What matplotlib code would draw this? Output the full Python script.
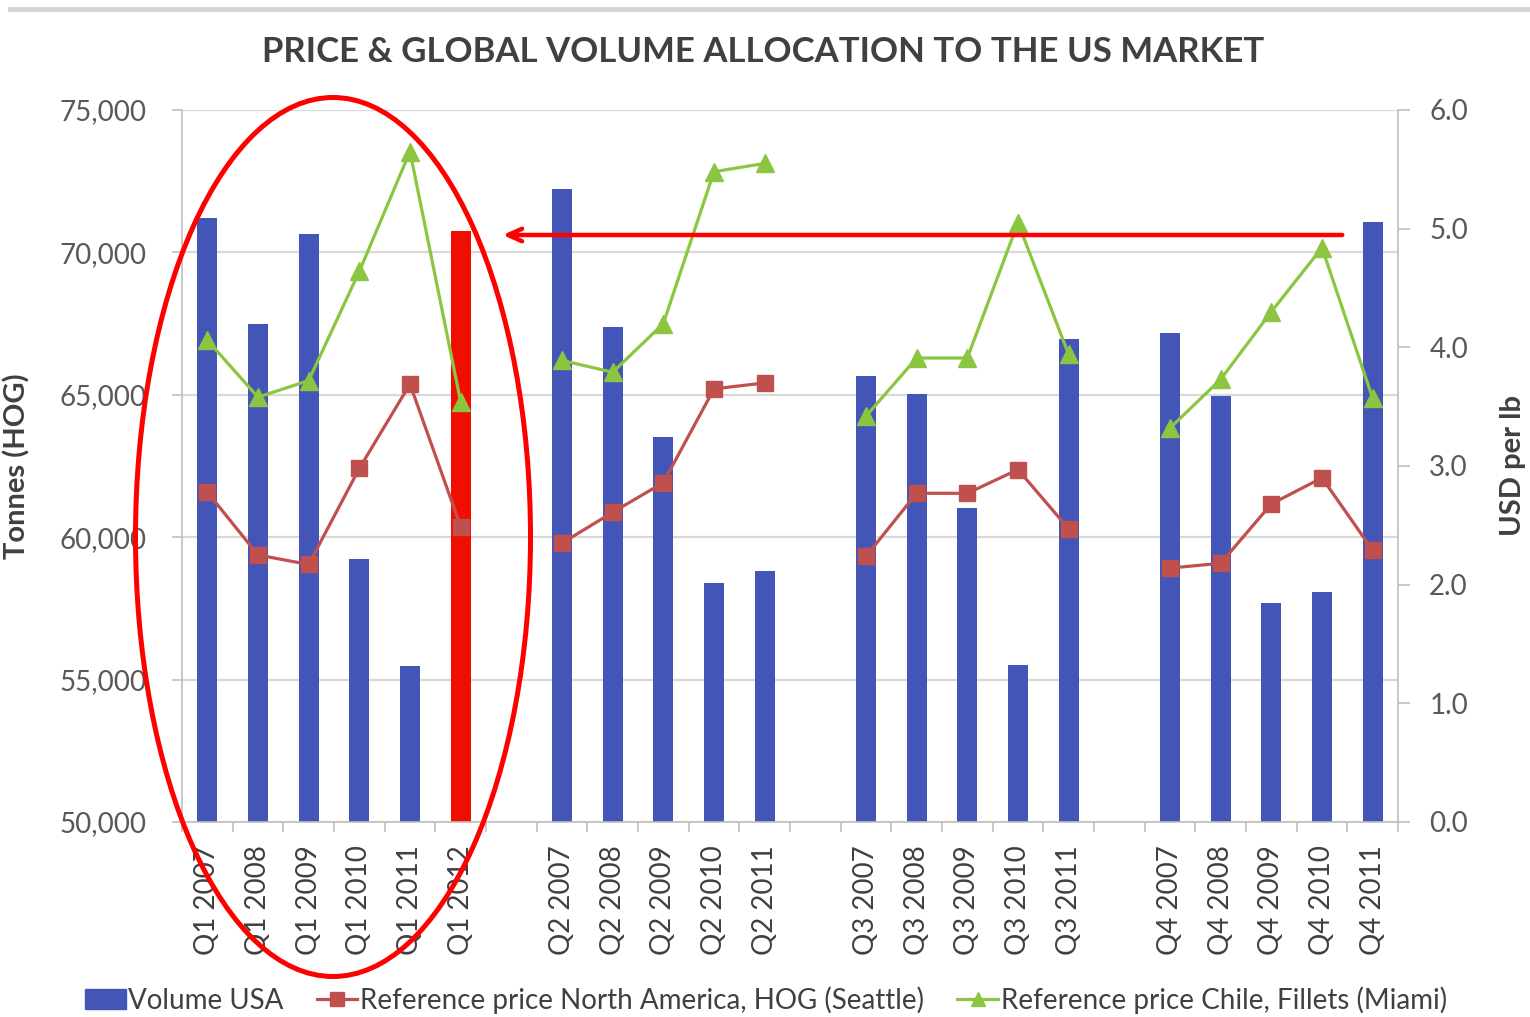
import numpy as np
import matplotlib
matplotlib.use('Agg')
import matplotlib.pyplot as plt
from matplotlib.patches import Ellipse, Patch
from matplotlib.lines import Line2D

plt.rcParams['font.family'] = ['Lato', 'DejaVu Sans']

nan = np.nan
categories = ['Q1 2007', 'Q1 2008', 'Q1 2009', 'Q1 2010', 'Q1 2011', 'Q1 2012', '',
              'Q2 2007', 'Q2 2008', 'Q2 2009', 'Q2 2010', 'Q2 2011', '',
              'Q3 2007', 'Q3 2008', 'Q3 2009', 'Q3 2010', 'Q3 2011', '',
              'Q4 2007', 'Q4 2008', 'Q4 2009', 'Q4 2010', 'Q4 2011']
volume_usa = [71220, 67490, 70650, 59230, 55490, 70750, nan,
              72230, 67390, 63530, 58385, 58800, nan,
              65660, 65030, 61030, 55510, 66960, nan,
              67180, 64960, 57700, 58090, 71060]
price_na_hog = [2.78, 2.25, 2.17, 2.98, 3.69, 2.49, nan,
                2.35, 2.61, 2.86, 3.65, 3.70, nan,
                2.24, 2.77, 2.77, 2.97, 2.47, nan,
                2.14, 2.18, 2.68, 2.90, 2.29]
price_chile = [4.06, 3.58, 3.72, 4.64, 5.65, 3.54, nan,
               3.89, 3.79, 4.20, 5.48, 5.55, nan,
               3.42, 3.91, 3.91, 5.05, 3.94, nan,
               3.32, 3.73, 4.30, 4.84, 3.57]
highlight_category = 'Q1 2012'
left_ticks = [50000, 55000, 60000, 65000, 70000, 75000]
right_ticks = [0, 1, 2, 3, 4, 5, 6]

series_names = ['Volume USA', 'Reference price North America, HOG (Seattle)',
                'Reference price Chile, Fillets (Miami)']
title = 'PRICE & GLOBAL VOLUME ALLOCATION TO THE US MARKET'

BLUE = '#4455b8'
HRED = '#f00e00'
LRED = '#c0504d'
GREEN = '#8cc540'
GRID = '#d9d9d9'
AX = '#bfbfbf'
TXT = '#595959'
DARK = '#404040'

fig = plt.figure(figsize=(15.3, 10.17), dpi=100)
ax = fig.add_axes([182/1530, 1 - 822/1017, 1216/1530, 712/1017])
x = np.arange(len(categories))
bar_colors = [HRED if c == highlight_category else BLUE for c in categories]
ax.bar(x, volume_usa, width=0.4, color=bar_colors, zorder=2)
ax.set_ylim(left_ticks[0], left_ticks[-1])
ax.set_xlim(-0.5, len(categories) - 0.5)
ax.set_yticks(left_ticks)
ax.set_yticklabels([f'{v:,}' for v in left_ticks])
ax.set_axisbelow(True)
ax.grid(axis='y', color=GRID, lw=1.6)
ax.set_xticks(x)
ax.set_xticklabels(categories, rotation=90)
ax.set_xticks(np.arange(-0.5, len(categories)), minor=True)
ax.tick_params(axis='x', which='major', length=0, pad=17, labelsize=20, labelcolor=DARK)
ax.tick_params(axis='x', which='minor', length=7.5, width=1.2, color=AX)
ax.tick_params(axis='y', length=7.5, width=1.2, color=AX, pad=18, labelsize=20, labelcolor=TXT)
for s in ['top', 'right']:
    ax.spines[s].set_visible(False)
for s in ['left', 'bottom']:
    ax.spines[s].set_color(AX)
    ax.spines[s].set_linewidth(1.2)
ax.set_ylabel('Tonnes (HOG)', fontsize=21, fontweight='bold', color=DARK)
ax.yaxis.set_label_coords(-0.125, 0.5)

ax2 = ax.twinx()
ax2.plot(x, price_na_hog, color=LRED, lw=2.3, marker='s', markersize=12, zorder=3)
ax2.plot(x, price_chile, color=GREEN, lw=2.3, marker='^', markersize=13, zorder=3)
ax2.set_ylim(right_ticks[0], right_ticks[-1])
ax2.set_yticks(right_ticks)
ax2.set_yticklabels([f'{v:.1f}' for v in right_ticks])
ax2.tick_params(axis='y', length=8.5, width=1.2, color=AX, pad=14, labelsize=20, labelcolor=TXT)
for s in ['top', 'left', 'bottom']:
    ax2.spines[s].set_visible(False)
ax2.spines['right'].set_color(AX)
ax2.spines['right'].set_linewidth(1.2)
ax2.set_ylabel('USD per lb', fontsize=21, fontweight='bold', color=DARK)
ax2.yaxis.set_label_coords(1.084, 0.5)

fig.text(0.4987, 1 - 52/1017, title, ha='center', va='center', fontsize=25,
         fontweight='bold', color=DARK)

handles = [Patch(facecolor=BLUE, edgecolor=BLUE),
           Line2D([], [], color=LRED, lw=2.3, marker='s', markersize=10),
           Line2D([], [], color=GREEN, lw=2.3, marker='^', markersize=10)]
fig.legend(handles, series_names, loc='center', bbox_to_anchor=(766/1530, 1 - 1000/1017),
           ncol=3, frameon=False, fontsize=20, handlelength=1.45, handletextpad=0.1,
           columnspacing=1.2, labelcolor=DARK)

# annotations: red ellipse and arrow
ell = Ellipse(((333 - 182)/1216, (822 - 537)/712), 395/1216, 879/712,
              transform=ax.transAxes, fill=False, edgecolor='#ff0000', lw=3.6,
              clip_on=False, zorder=10)
ax2.add_patch(ell)
ax2.annotate('', xy=((500 - 182)/1216, (822 - 235)/712), xycoords='axes fraction',
             xytext=((1345 - 182)/1216, (822 - 235)/712), textcoords='axes fraction',
             arrowprops=dict(arrowstyle='->,head_length=1.0,head_width=0.45',
                             color='#ff0000', lw=3.2), zorder=10)

# top frame line
fig.add_artist(Line2D([10/1530, 1], [1 - 9/1017, 1 - 9/1017], transform=fig.transFigure,
                      color='#d3d3d3', lw=3.5))

fig.savefig('out.png', dpi=100)
